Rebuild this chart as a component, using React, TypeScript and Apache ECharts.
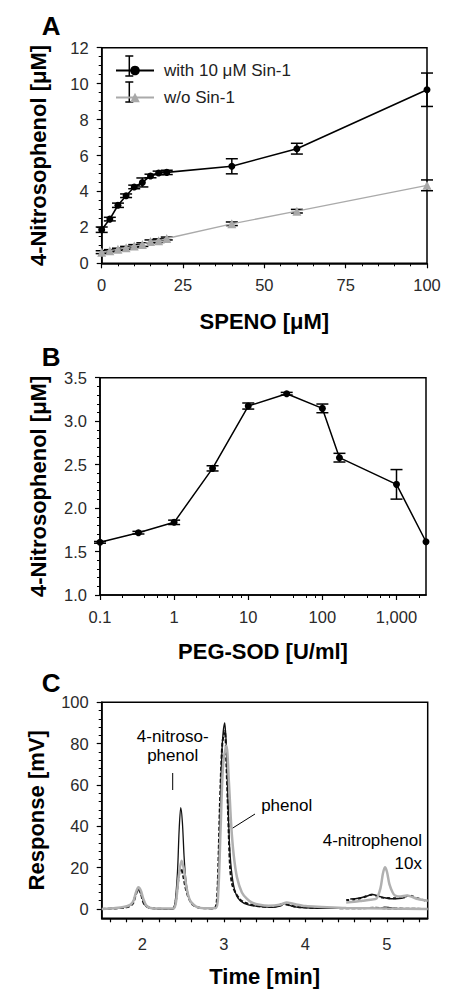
import React, { useEffect, useRef } from 'react';
import * as echarts from 'echarts';

// ---------- Panel A ----------
const spenoConc = [0, 2.5, 5, 7.5, 10, 12.5, 15, 17.5, 20, 40, 60, 100];
const withSin1 = [1.87, 2.46, 3.23, 3.76, 4.25, 4.5, 4.86, 5.03, 5.06, 5.4, 6.38, 9.66];
const withSin1Err = [0.15, 0.1, 0.12, 0.1, 0.1, 0.25, 0.1, 0.1, 0.12, 0.42, 0.3, 0.93];
const withoutSin1 = [0.62, 0.7, 0.78, 0.86, 0.96, 1.04, 1.22, 1.26, 1.38, 2.2, 2.9, 4.34];
const withoutSin1Err = [0.08, 0.06, 0.06, 0.08, 0.08, 0.1, 0.08, 0.1, 0.08, 0.1, 0.1, 0.3];
const seriesNamesA = ['with 10 μM Sin-1', 'w/o Sin-1'];

// ---------- Panel B ----------
const pegSod = [0.1, 0.33, 1, 3.3, 10, 33, 100, 170, 1000, 2500];
const nitrosoB = [1.606, 1.717, 1.836, 2.457, 3.174, 3.316, 3.147, 2.58, 2.273, 1.613];
const nitrosoBErr = [0.01, 0.015, 0.025, 0.03, 0.035, 0.015, 0.05, 0.05, 0.17, 0];
const logMajorTicks = [0.1, 1, 10, 100, 1000];
const logMinorTicks = [0.2, 0.4, 0.6, 0.8, 2, 4, 6, 8, 20, 40, 60, 80, 200, 400, 600, 800, 2000];

// ---------- Panel C (chromatograms) ----------
const cBlackSolid: [number, number][] = [
  [1.5, 0], [1.6, 0.2], [1.7, 0.5], [1.8, 1.0], [1.85, 1.8], [1.88, 3], [1.91, 6.5], [1.94, 9.5], [1.96, 9.8],
  [1.98, 8], [2.0, 5], [2.03, 2], [2.07, 0.6], [2.15, 0.2], [2.3, 0], [2.37, 0.2], [2.4, 3], [2.43, 18],
  [2.45, 38], [2.47, 49], [2.49, 42], [2.51, 26], [2.53, 15], [2.56, 7], [2.6, 3], [2.65, 1.2], [2.75, 0.4],
  [2.85, 0.2], [2.9, 0.5], [2.92, 4], [2.94, 25], [2.96, 55], [2.98, 80], [3.01, 90], [3.03, 78], [3.05, 52],
  [3.07, 30], [3.1, 16], [3.14, 8], [3.2, 4], [3.3, 2], [3.45, 1.2], [3.6, 0.8], [3.7, 1.5], [3.74, 2.6],
  [3.78, 2.2], [3.85, 1.2], [4.0, 0.6], [4.3, 0.3], [4.9, 0.3], [4.97, 0.9], [5.02, 0.8], [5.1, 0.2], [5.5, 0],
];
const cBlackDashed: [number, number][] = [
  [1.5, 0], [1.8, 0.8], [1.88, 2.5], [1.92, 7], [1.95, 9.5], [1.98, 7.5], [2.02, 2.5], [2.1, 0.5], [2.37, 0],
  [2.41, 4], [2.44, 14], [2.47, 20], [2.5, 16], [2.53, 10], [2.57, 5], [2.62, 2], [2.7, 0.6], [2.88, 0.3],
  [2.91, 3], [2.93, 20], [2.95, 50], [2.98, 80], [3.01, 86], [3.03, 70], [3.05, 47], [3.075, 20], [3.1, 12],
  [3.14, 8], [3.2, 4.5], [3.26, 3], [3.4, 1.5], [3.6, 1], [3.72, 2.4], [3.78, 2], [3.9, 1], [4.2, 0.5],
  [4.7, 0.4], [4.85, 0.6], [5.0, 0.3], [5.5, 0],
];
const cGray: [number, number][] = [
  [1.5, 0], [1.6, 0.2], [1.75, 0.8], [1.85, 2], [1.89, 4], [1.92, 8], [1.95, 10.5], [1.98, 9], [2.01, 5],
  [2.05, 1.5], [2.1, 0.5], [2.2, 0.2], [2.38, 0.2], [2.41, 3], [2.44, 14], [2.48, 23.4], [2.51, 19],
  [2.54, 10.5], [2.57, 5.5], [2.6, 3.2], [2.66, 1.2], [2.75, 0.4], [2.9, 0.5], [2.93, 8], [2.96, 40],
  [2.99, 70], [3.03, 79], [3.06, 62], [3.09, 40], [3.12, 26], [3.16, 15.3], [3.22, 8], [3.28, 5], [3.34, 3.2],
  [3.42, 2.2], [3.55, 1.6], [3.7, 2.2], [3.77, 3.2], [3.85, 2.5], [4.0, 1.4], [4.2, 1.0], [4.5, 0.5],
  [5.0, 0.2], [5.5, 0],
];
const cGray10x: [number, number][] = [
  [4.5, 3.2], [4.6, 3.5], [4.7, 4], [4.8, 4.5], [4.87, 5], [4.92, 10], [4.95, 17], [4.975, 20.2], [5.0, 18],
  [5.03, 12], [5.07, 8], [5.1, 6.5], [5.17, 6], [5.24, 6.5], [5.3, 6], [5.38, 4.8], [5.5, 4],
];
const cBlackDashed10x: [number, number][] = [
  [4.5, 4.3], [4.6, 4.6], [4.71, 5.6], [4.81, 6.9], [4.88, 6.3], [4.95, 5.5], [5.05, 5.2], [5.12, 5.2],
  [5.2, 5.8], [5.28, 6.5], [5.35, 5.5], [5.48, 4],
];
const cBlackSolid10x: [number, number][] = [
  [4.55, 4.8], [4.65, 5.2], [4.75, 6.2], [4.82, 7], [4.9, 6.2], [4.97, 5.4], [5.05, 5.0], [5.15, 5.1], [5.22, 5.6],
];
const cYMajorTicks = [0, 20, 40, 60, 80, 100];
const cYMinorTicks = [4, 8, 12, 16, 24, 28, 32, 36, 44, 48, 52, 56, 64, 68, 72, 76, 84, 88, 92, 96];
const cXLabels = [2, 3, 4, 5];
const cXTicks = [1.6, 1.8, 2.0, 2.2, 2.4, 2.6, 2.8, 3.0, 3.2, 3.4, 3.6, 3.8, 4.0, 4.2, 4.4, 4.6, 4.8, 5.0, 5.2, 5.4];

const FONT = "'Liberation Sans', Arial, Helvetica, sans-serif";

const zip = (xs: number[], ys: number[]) => xs.map((x, i) => [x, ys[i]]);
const zip3 = (xs: number[], ys: number[], es: number[]) => xs.map((x, i) => [x, ys[i], es[i]]);

const errorRender = (halfW: number) => (params: any, api: any) => {
  const x = api.value(0);
  const y = api.value(1);
  const e = api.value(2);
  const style = { stroke: '#000', lineWidth: 1.5 };
  if (!e) return { type: 'group', children: [] };
  const hi = api.coord([x, y + e]);
  const lo = api.coord([x, y - e]);
  return {
    type: 'group',
    children: [
      { type: 'line', shape: { x1: hi[0], y1: hi[1], x2: lo[0], y2: lo[1] }, style },
      { type: 'line', shape: { x1: hi[0] - halfW, y1: hi[1], x2: hi[0] + halfW, y2: hi[1] }, style },
      { type: 'line', shape: { x1: lo[0] - halfW, y1: lo[1], x2: lo[0] + halfW, y2: lo[1] }, style },
    ],
  };
};

const axisBase = () => ({
  axisLine: { show: true, onZero: false, lineStyle: { color: '#000', width: 1.5 } },
  axisTick: { show: true, inside: false, length: 5, lineStyle: { color: '#000', width: 1.2 } },
  minorTick: { show: false },
  splitLine: { show: false },
  minorSplitLine: { show: false },
  axisLabel: { color: '#2a2a2a', fontSize: 16.5, fontFamily: FONT, margin: 13 },
  nameLocation: 'middle',
  nameTextStyle: { color: '#000', fontSize: 22, fontWeight: 'bold', fontFamily: FONT },
});

const lineEl = (x1: number, y1: number, x2: number, y2: number, w = 1.5) => ({
  type: 'line',
  z: 3,
  shape: { x1, y1, x2, y2 },
  style: { stroke: '#000', lineWidth: w },
});

const textEl = (text: string, x: number, y: number, size: number, bold = false, align = 'center') => ({
  type: 'text',
  x,
  y,
  z: 10,
  style: {
    text,
    fill: '#000',
    fontSize: size,
    fontWeight: bold ? 'bold' : 'normal',
    fontFamily: FONT,
    textAlign: align,
    textVerticalAlign: 'middle',
  },
});

export default function App() {
  const ref = useRef<HTMLDivElement>(null);

  useEffect(() => {
    if (!ref.current) return;
    const chart = echarts.init(ref.current, undefined, { renderer: 'svg' });

    const gridStyle = { show: true, borderColor: '#000', borderWidth: 1.5, backgroundColor: 'transparent' };

    const option: any = {
      animation: false,
      backgroundColor: '#fff',
      grid: [
        { left: 101.7, top: 47.7, width: 325.3, height: 215.6, ...gridStyle },
        { left: 100, top: 377.7, width: 326, height: 217.3, ...gridStyle },
        { left: 101.7, top: 702.3, width: 326, height: 216, ...gridStyle },
      ],
      legend: {
        data: seriesNamesA,
        orient: 'vertical',
        left: 110,
        top: 57,
        itemWidth: 38,
        itemHeight: 12,
        itemGap: 10,
        textStyle: { fontSize: 17, color: '#222', fontFamily: FONT, padding: [0, 0, 0, 5] },
        selectedMode: false,
      },
      xAxis: [
        {
          ...axisBase(),
          gridIndex: 0,
          type: 'value',
          min: 0,
          max: 100,
          interval: 25,
          minorTick: { show: true, splitNumber: 5, length: 3, lineStyle: { color: '#000', width: 1 } },
          name: 'SPENO [μM]',
          nameGap: 47,
        },
        {
          ...axisBase(),
          gridIndex: 1,
          type: 'log',
          logBase: 10,
          min: 0.1,
          max: 2500,
          position: 'bottom',
          axisTick: { show: true, length: 5, customValues: logMajorTicks, lineStyle: { color: '#000', width: 1.2 } },
          axisLabel: {
            ...axisBase().axisLabel,
            customValues: logMajorTicks,
            formatter: (v: number) => {
              const r = Math.round(v * 10) / 10;
              return r >= 1000 ? r.toLocaleString('en-US') : String(r);
            },
          },
          name: 'PEG-SOD [U/ml]',
          nameGap: 45,
        },
        {
          gridIndex: 1,
          type: 'log',
          logBase: 10,
          min: 0.1,
          max: 2500,
          position: 'bottom',
          offset: 0,
          axisLine: { show: false },
          axisLabel: { show: false },
          splitLine: { show: false },
          axisTick: { show: true, length: 3, customValues: logMinorTicks, lineStyle: { color: '#000', width: 1 } },
        },
        {
          ...axisBase(),
          gridIndex: 2,
          type: 'value',
          min: 1.5,
          max: 5.5,
          axisTick: { show: true, length: 4, customValues: cXTicks, lineStyle: { color: '#000', width: 1.2 } },
          axisLabel: { ...axisBase().axisLabel, customValues: cXLabels, margin: 17 },
          name: 'Time [min]',
          nameGap: 47,
        },
      ],
      yAxis: [
        {
          ...axisBase(),
          gridIndex: 0,
          type: 'value',
          min: 0,
          max: 12,
          interval: 2,
          minorTick: { show: true, splitNumber: 4, length: 3, lineStyle: { color: '#000', width: 1 } },
          name: '4-Nitrosophenol [μM]',
          nameGap: 52,
        },
        {
          ...axisBase(),
          gridIndex: 1,
          type: 'value',
          min: 1,
          max: 3.5,
          interval: 0.5,
          minorTick: { show: true, splitNumber: 5, length: 3, lineStyle: { color: '#000', width: 1 } },
          axisLabel: { ...axisBase().axisLabel, formatter: (v: number) => v.toFixed(1) },
          name: '4-Nitrosophenol [μM]',
          nameGap: 51,
        },
        {
          ...axisBase(),
          gridIndex: 2,
          type: 'value',
          min: -4.5,
          max: 100,
          position: 'left',
          axisTick: { show: true, length: 5, customValues: cYMajorTicks, lineStyle: { color: '#000', width: 1.2 } },
          axisLabel: { ...axisBase().axisLabel, customValues: cYMajorTicks },
          name: 'Response [mV]',
          nameGap: 54,
        },
        {
          gridIndex: 2,
          type: 'value',
          min: -4.5,
          max: 100,
          position: 'left',
          offset: 0,
          axisLine: { show: false },
          axisLabel: { show: false },
          splitLine: { show: false },
          axisTick: { show: true, length: 3, customValues: cYMinorTicks, lineStyle: { color: '#000', width: 1 } },
        },
      ],
      graphic: [
        textEl('A', 41.7, 25.5, 26, true, 'left'),
        textEl('B', 41.7, 356.7, 26, true, 'left'),
        textEl('C', 41.7, 683, 26, true, 'left'),
        // legend error-bar glyphs
        lineEl(129.3, 56, 129.3, 76),
        lineEl(125.3, 56, 133.3, 56),
        lineEl(125.3, 76, 133.3, 76),
        lineEl(129.3, 82, 129.3, 102),
        lineEl(125.3, 82, 133.3, 82),
        lineEl(125.3, 102, 133.3, 102),
        // panel C annotations
        textEl('4-nitroso-', 172.7, 736, 17),
        textEl('phenol', 172.7, 755, 17),
        lineEl(172.7, 773, 172.7, 790, 1),
        textEl('phenol', 286.7, 805.7, 17),
        lineEl(255, 814, 232.3, 828.3, 1),
        textEl('4-nitrophenol', 372.3, 840.7, 17),
        textEl('10x', 408.3, 863.7, 17),
      ],
      series: [
        // Panel A
        {
          type: 'custom',
          xAxisIndex: 0,
          yAxisIndex: 0,
          renderItem: errorRender(6),
          data: zip3(spenoConc, withoutSin1, withoutSin1Err),
          encode: { x: 0, y: 1 },
          z: 2,
        },
        {
          name: seriesNamesA[1],
          type: 'line',
          xAxisIndex: 0,
          yAxisIndex: 0,
          data: zip(spenoConc, withoutSin1),
          symbol: 'triangle',
          symbolSize: 9,
          itemStyle: { color: '#a8a8a8' },
          lineStyle: { color: '#aaaaaa', width: 1.3 },
          z: 3,
        },
        {
          type: 'custom',
          xAxisIndex: 0,
          yAxisIndex: 0,
          renderItem: errorRender(6),
          data: zip3(spenoConc, withSin1, withSin1Err),
          encode: { x: 0, y: 1 },
          z: 4,
        },
        {
          name: seriesNamesA[0],
          type: 'line',
          xAxisIndex: 0,
          yAxisIndex: 0,
          data: zip(spenoConc, withSin1),
          symbol: 'circle',
          symbolSize: 7,
          itemStyle: { color: '#000' },
          lineStyle: { color: '#000', width: 1.6 },
          z: 5,
        },
        // Panel B
        {
          type: 'custom',
          xAxisIndex: 1,
          yAxisIndex: 1,
          renderItem: errorRender(6),
          data: zip3(pegSod, nitrosoB, nitrosoBErr),
          encode: { x: 0, y: 1 },
          z: 2,
        },
        {
          name: 'PEG-SOD',
          type: 'line',
          xAxisIndex: 1,
          yAxisIndex: 1,
          data: zip(pegSod, nitrosoB),
          symbol: 'circle',
          symbolSize: 7,
          itemStyle: { color: '#000' },
          lineStyle: { color: '#000', width: 1.5 },
          z: 3,
        },
        // Panel C
        {
          name: 'trace dashed',
          type: 'line',
          xAxisIndex: 3,
          yAxisIndex: 2,
          data: cBlackDashed,
          symbol: 'none',
          smooth: 0.3,
          lineStyle: { color: '#111', width: 2, type: [4, 2] },
          z: 2,
        },
        {
          name: 'trace solid',
          type: 'line',
          xAxisIndex: 3,
          yAxisIndex: 2,
          data: cBlackSolid,
          symbol: 'none',
          smooth: 0.3,
          lineStyle: { color: '#111', width: 1.3 },
          z: 3,
        },
        {
          name: 'trace gray',
          type: 'line',
          xAxisIndex: 3,
          yAxisIndex: 2,
          data: cGray,
          symbol: 'none',
          smooth: 0.3,
          lineStyle: { color: '#b0b0b0', width: 2.5 },
          z: 4,
        },
        {
          name: 'dashed 10x',
          type: 'line',
          xAxisIndex: 3,
          yAxisIndex: 2,
          data: cBlackDashed10x,
          symbol: 'none',
          smooth: 0.3,
          lineStyle: { color: '#111', width: 2, type: [3, 3] },
          z: 2,
        },
        {
          name: 'solid 10x',
          type: 'line',
          xAxisIndex: 3,
          yAxisIndex: 2,
          data: cBlackSolid10x,
          symbol: 'none',
          smooth: 0.3,
          lineStyle: { color: '#111', width: 1.5 },
          z: 3,
        },
        {
          name: 'gray 10x',
          type: 'line',
          xAxisIndex: 3,
          yAxisIndex: 2,
          data: cGray10x,
          symbol: 'none',
          smooth: 0.3,
          lineStyle: { color: '#b0b0b0', width: 2.5 },
          z: 4,
        },
      ],
    };

    chart.setOption(option);
    return () => chart.dispose();
  }, []);

  return (
    <div
      ref={ref}
      style={{ position: 'absolute', left: 0, top: 0, width: 470, height: 997, background: '#fff' }}
    />
  );
}
